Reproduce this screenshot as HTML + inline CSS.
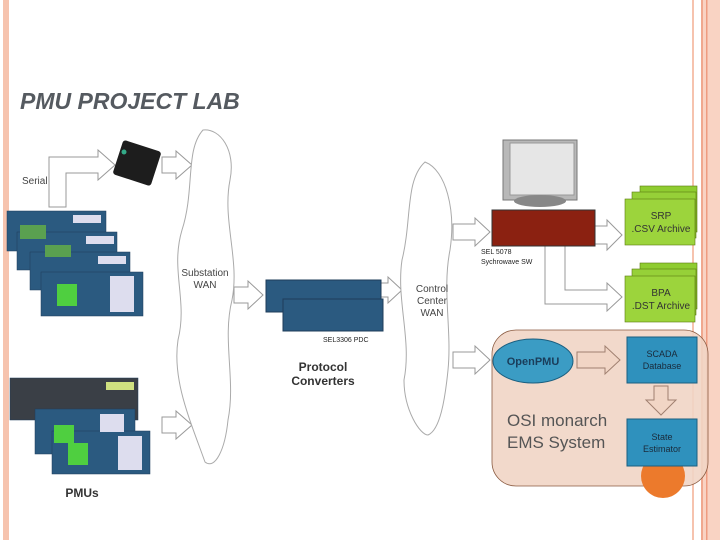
<!DOCTYPE html>
<html><head><meta charset="utf-8"><style>
html,body{margin:0;padding:0;background:#fff;}
svg{display:block;}
text{font-family:"Liberation Sans",sans-serif;}
</style></head><body>
<svg width="720" height="540" viewBox="0 0 720 540" xmlns="http://www.w3.org/2000/svg">
<rect x="0" y="0" width="720" height="540" fill="#fff"/>
<rect x="3" y="0" width="6" height="540" fill="#f6c3ae"/>
<rect x="692" y="0" width="2" height="540" fill="#f6c3ae"/>
<rect x="701" y="0" width="19" height="540" fill="#f9d3c3"/>
<rect x="701" y="0" width="2" height="540" fill="#f0a88e"/>
<rect x="706" y="0" width="1.5" height="540" fill="#ee9c80"/>
<text x="20" y="109" font-size="23" font-weight="bold" font-style="italic" fill="#555a60">PMU PROJECT LAB</text>

<g fill="#fff" stroke="#999" stroke-width="1">
<polygon points="49,207 66,207 66,173 98,173 98,180 115,165 98,150 98,157 49,157"/>
<polygon points="162,157 176,157 176,151 192,165 176,179 176,173 162,173"/>
<polygon points="162,417 176,417 176,411 192,425 176,439 176,433 162,433"/>
<polygon points="234,287 248,287 248,281 263,295 248,309 248,303 234,303"/>
<polygon points="373,283 388,283 388,277 402,290 388,303 388,297 373,297"/>
<polygon points="453,224 475,224 475,218 490,232 475,246 475,240 453,240"/>
<polygon points="453,352 475,352 475,346 490,360 475,374 475,368 453,368"/>
<polygon points="595,226 607,226 607,220 622,235 607,250 607,244 595,244"/>
<polygon points="545,246 565,246 565,290 607,290 607,283 622,297 607,311 607,304 545,304"/>
</g>
<path d="M203,130 C185,150 195,190 182,230 C170,270 188,300 178,340 C172,380 190,420 205,462 C215,470 225,450 228,420 C236,380 222,340 232,300 C240,260 222,220 230,180 C236,150 220,128 203,130Z" fill="#fff" stroke="#aaa"/>
<path d="M425,162 C405,180 412,220 402,260 C396,300 412,340 404,380 C404,410 420,435 428,435 C440,430 445,400 448,370 C452,330 442,290 450,250 C456,210 446,170 425,162Z" fill="#fff" stroke="#aaa"/>
<text x="205" y="276" font-size="10" text-anchor="middle" fill="#444">Substation</text>
<text x="205" y="288" font-size="10" text-anchor="middle" fill="#444">WAN</text>
<text x="432" y="292" font-size="10" text-anchor="middle" fill="#444">Control</text>
<text x="432" y="304" font-size="10" text-anchor="middle" fill="#444">Center</text>
<text x="432" y="316" font-size="10" text-anchor="middle" fill="#444">WAN</text>

<g transform="rotate(18 137 163)"><rect x="117" y="145" width="40" height="36" rx="3" fill="#1d1d1d"/></g>
<circle cx="124" cy="152" r="2.5" fill="#3a8"/>
<text x="22" y="184" font-size="10" fill="#444">Serial</text>

<g stroke="#1f3c5a" stroke-width="0.5">
<rect x="7" y="211" width="99" height="40" fill="#2b5a80"/>
<rect x="17" y="232" width="100" height="38" fill="#2b5a80"/>
<rect x="30" y="252" width="100" height="38" fill="#2b5a80"/>
<rect x="41" y="272" width="102" height="44" fill="#2b5a80"/>
<rect x="10" y="378" width="128" height="42" fill="#3a3f46"/>
<rect x="35" y="409" width="100" height="45" fill="#2b5a80"/>
<rect x="52" y="431" width="98" height="43" fill="#2b5a80"/>
</g>
<rect x="20" y="225" width="26" height="14" fill="#5aa050"/>
<rect x="45" y="245" width="26" height="12" fill="#5aa050"/>
<rect x="57" y="284" width="20" height="22" fill="#4fcf40"/>
<rect x="68" y="443" width="20" height="22" fill="#4fcf40"/>
<rect x="54" y="425" width="20" height="18" fill="#4fcf40"/>
<g fill="#dde"><rect x="73" y="215" width="28" height="8"/><rect x="86" y="236" width="28" height="8"/><rect x="98" y="256" width="28" height="8"/><rect x="110" y="276" width="24" height="36"/><rect x="118" y="436" width="24" height="34"/><rect x="100" y="414" width="24" height="18"/></g>
<rect x="106" y="382" width="28" height="8" fill="#cfe080"/>
<text x="82" y="497" font-size="12" font-weight="bold" text-anchor="middle" fill="#333">PMUs</text>

<rect x="266" y="280" width="115" height="32" fill="#2b5a80" stroke="#1f3c5a"/>
<rect x="283" y="299" width="100" height="32" fill="#2b5a80" stroke="#1f3c5a"/>
<text x="323" y="342" font-size="7" fill="#222">SEL3306 PDC</text>
<text x="323" y="371" font-size="12" font-weight="bold" text-anchor="middle" fill="#333">Protocol</text>
<text x="323" y="385" font-size="12" font-weight="bold" text-anchor="middle" fill="#333">Converters</text>

<rect x="503" y="140" width="74" height="60" fill="#b8b8b8" stroke="#777"/>
<rect x="510" y="143" width="64" height="52" fill="#e6e6e6" stroke="#999"/>
<ellipse cx="540" cy="201" rx="26" ry="6" fill="#888"/>
<rect x="492" y="210" width="103" height="36" fill="#8b2111" stroke="#333"/>
<text x="481" y="254" font-size="7" fill="#222">SEL 5078</text>
<text x="481" y="264" font-size="7" fill="#222">Sychrowave SW</text>

<g stroke="#5a7a10" stroke-width="0.6">
<rect x="640" y="186" width="57" height="46" fill="#8fcc30"/>
<rect x="632" y="192" width="64" height="46" fill="#96d038"/>
<rect x="625" y="199" width="70" height="46" fill="#9cd43c"/>
<rect x="640" y="263" width="57" height="46" fill="#8fcc30"/>
<rect x="632" y="269" width="64" height="46" fill="#96d038"/>
<rect x="625" y="276" width="70" height="46" fill="#9cd43c"/>
</g>
<text x="661" y="219" font-size="10" text-anchor="middle" fill="#333">SRP</text>
<text x="661" y="232" font-size="10" text-anchor="middle" fill="#333">.CSV Archive</text>
<text x="661" y="296" font-size="10" text-anchor="middle" fill="#333">BPA</text>
<text x="661" y="309" font-size="10" text-anchor="middle" fill="#333">.DST Archive</text>

<rect x="492" y="330" width="216" height="156" rx="24" fill="#f1d5c5" stroke="#8a5a40" stroke-width="0.8" fill-opacity="0.9"/>
<circle cx="663" cy="476" r="22" fill="#ec7a2c"/>
<ellipse cx="533" cy="361" rx="40" ry="22" fill="#3b9cc4" stroke="#1b5f80"/>
<text x="533" y="365" font-size="11" font-weight="bold" text-anchor="middle" fill="#1a3d5a">OpenPMU</text>
<polygon points="577,352 605,352 605,346 620,360 605,374 605,368 577,368" fill="#f1d5c5" stroke="#a08070"/>
<rect x="627" y="337" width="70" height="46" fill="#2f91bd" stroke="#1b5f80"/>
<text x="662" y="357" font-size="9" text-anchor="middle" fill="#1a2a3a">SCADA</text>
<text x="662" y="369" font-size="9" text-anchor="middle" fill="#1a2a3a">Database</text>
<polygon points="654,386 668,386 668,400 676,400 661,415 646,400 654,400" fill="#f1d5c5" stroke="#a08070"/>
<rect x="627" y="419" width="70" height="47" fill="#2f91bd" stroke="#1b5f80"/>
<text x="662" y="440" font-size="9" text-anchor="middle" fill="#1a2a3a">State</text>
<text x="662" y="452" font-size="9" text-anchor="middle" fill="#1a2a3a">Estimator</text>
<text x="507" y="426" font-size="17" fill="#555">OSI monarch</text>
<text x="507" y="448" font-size="17" fill="#555">EMS System</text>
</svg>
</body></html>
